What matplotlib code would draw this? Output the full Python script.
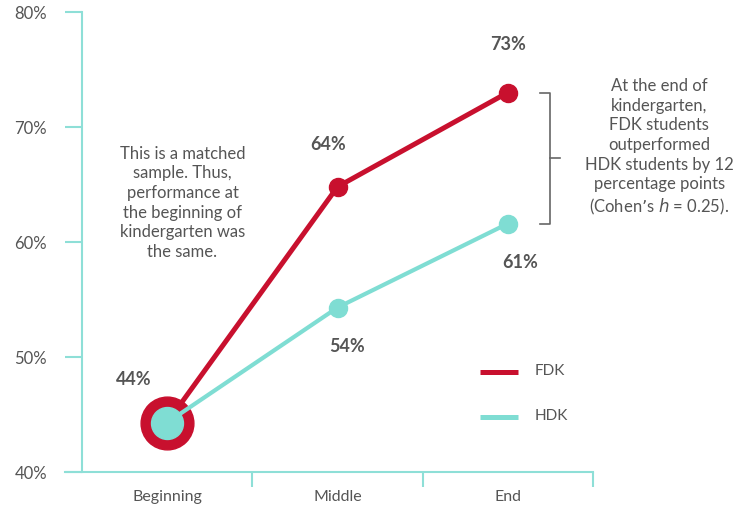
import matplotlib.pyplot as plt
import matplotlib as mpl

RED = "#C8102E"; TEAL = "#7FDDD3"; AXC = "#8EDFD7"; TXT = "#555555"
mpl.rcParams.update({"font.family": ["Lato", "DejaVu Sans"], "text.color": TXT})

periods = ["Beginning", "Middle", "End"]
fdk = [44.3, 64.8, 73.0]
hdk = [44.3, 54.3, 61.6]
fdk_lbl = ["44%", "64%", "73%"]
hdk_lbl = [None, "54%", "61%"]
yticks = [40, 50, 60, 70, 80]

fig = plt.figure(figsize=(7.42, 5.06), dpi=100)
ax = fig.add_axes([82/742, 33/506, 511/742, 460/506])
x = list(range(len(periods)))

ax.plot(x, fdk, color=RED, lw=3.6, zorder=3, solid_capstyle="round")
ax.plot(x[1:], fdk[1:], "o", color=RED, ms=13, zorder=4)
ax.plot(x[0], fdk[0], "o", color=RED, ms=38, zorder=4)
ax.plot(x, hdk, color=TEAL, lw=3.0, zorder=5, solid_capstyle="round")
ax.plot(x[1:], hdk[1:], "o", color=TEAL, ms=13, zorder=6)
ax.plot(x[0], hdk[0], "o", color=TEAL, ms=23, zorder=6)

# value labels (offsets in points)
offs_f = [(-24, 32), (-7, 31), (0, 35)]
offs_h = [None, (7, -27), (9, -27)]
for i in range(3):
    ax.annotate(fdk_lbl[i], (x[i], fdk[i]), xytext=offs_f[i], textcoords="offset points",
                ha="center", va="center", fontsize=13, fontweight="bold", color=TXT)
    if hdk_lbl[i]:
        ax.annotate(hdk_lbl[i], (x[i], hdk[i]), xytext=offs_h[i], textcoords="offset points",
                    ha="center", va="center", fontsize=13, fontweight="bold", color=TXT)

ax.set_xlim(-0.5, 2.5)
ax.set_ylim(40, 80)
for s in ["top", "right", "bottom"]:
    ax.spines[s].set_visible(False)
ax.spines["left"].set_color(AXC); ax.spines["left"].set_linewidth(1.5)
ax.plot([-0.6, 2.5], [40, 40], color=AXC, lw=1.5, clip_on=False, zorder=2)

ax.set_yticks(yticks)
ax.set_yticklabels([f"{v}%" for v in yticks], fontsize=12, color=TXT)
ax.tick_params(axis="y", length=12.2, width=1.5, color=AXC, pad=13)
ax.set_xticks(x)
ax.set_xticklabels(periods, fontsize=11.5, color=TXT)
ax.tick_params(axis="x", which="major", length=0, pad=12)
ax.set_xticks([0.5, 1.5, 2.5], minor=True)
ax.tick_params(axis="x", which="minor", length=10.8, width=1.5, color=AXC)

# left note
ax.text(0.09, 63.5, "This is a matched\nsample. Thus,\nperformance at\nthe beginning of\nkindergarten was\nthe same.",
        ha="center", va="center", fontsize=12, linespacing=1.28, color=TXT)

# bracket
bx = 2.247
ax.plot([bx - 0.06, bx, bx, bx - 0.06], [fdk[2], fdk[2], hdk[2], hdk[2]],
        color="#666666", lw=1.2, clip_on=False)
mid = (fdk[2] + hdk[2]) / 2
ax.plot([bx, bx + 0.06], [mid, mid], color="#666666", lw=1.2, clip_on=False)
ax.text(2.89, 68.3, "At the end of\nkindergarten,\nFDK students\noutperformed\nHDK students by 12\npercentage points\n(Cohen\u2019s $\\it{h}$ = 0.25).",
        ha="center", va="center", fontsize=12, linespacing=1.28, color=TXT)

# legend
for yy, c, name in [(48.7, RED, "FDK"), (44.8, TEAL, "HDK")]:
    ax.plot([1.835, 2.06], [yy, yy], color=c, lw=3.6, solid_capstyle="butt")
    ax.text(2.155, yy + 0.15, name, ha="left", va="center", fontsize=11, color=TXT)

fig.savefig("out.png", dpi=100, facecolor="white")
